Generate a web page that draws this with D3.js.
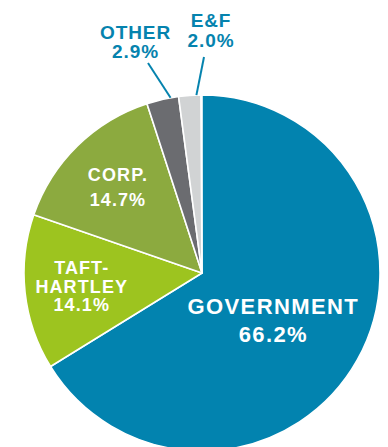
<!DOCTYPE html>
<html lang="en">

<head>
    <meta charset="UTF-8">
    <title>Assets by Client Type</title>
    <style>
        html, body {
            margin: 0;
            padding: 0;
            background: #fff;
        }

        #chart {
            width: 388px;
            height: 447px;
            overflow: hidden;
        }
    </style>
</head>

<body>
    <div id="chart"></div>
    <script src="https://d3js.org/d3.v7.min.js"></script>
    <script>
        const categories = ["GOVERNMENT", "TAFT-HARTLEY", "CORP.", "OTHER", "E&F"];
        const shares = [66.2, 14.1, 14.7, 2.9, 2.0];
        const labelLines = [["GOVERNMENT"], ["TAFT-", "HARTLEY"], ["CORP."], ["OTHER"], ["E&F"]];
        const colors = ["#0283af", "#9dc41f", "#8caa3f", "#6b6c70", "#d1d3d4"];

        function createPieChart() {
            const width = 388;
            const height = 447;
            const cx = 202;
            const cy = 273;
            const radius = 178;
            const textColor = "#0583ae";

            const data = categories.map((c, i) => ({ category: c, value: shares[i], lines: labelLines[i] }));

            // values add up to 99.9, keep the tiny gap instead of stretching
            const total = d3.sum(shares);
            const pie = d3.pie()
                .sort(null)
                .value(d => d.value)
                .startAngle(0)
                .endAngle(2 * Math.PI * total / 100);

            const arc = d3.arc()
                .innerRadius(0)
                .outerRadius(radius);

            const color = d3.scaleOrdinal()
                .domain(categories)
                .range(colors);

            const arcs = pie(data);

            const svg = d3.select("#chart").append("svg")
                .attr("width", width)
                .attr("height", height)
                .attr("viewBox", [0, 0, width, height])
                .style("font-family", "'Liberation Sans', Arial, Helvetica, sans-serif")
                .style("font-weight", "bold");

            const g = svg.append("g")
                .attr("transform", `translate(${cx},${cy})`);

            g.selectAll("path")
                .data(arcs)
                .join("path")
                .attr("d", arc)
                .attr("fill", d => color(d.data.category))
                .attr("stroke", "#fff")
                .attr("stroke-width", 1.6)
                .attr("stroke-linejoin", "round");

            const polar = (angle, r) => [Math.sin(angle) * r, -Math.cos(angle) * r];

            // inside labels: radius along mid angle plus a small nudge
            const inside = {
                "GOVERNMENT": { r: 84, dx: -2, dy: 6, size: 22, lh: 28, ls: 1.4 },
                "TAFT-HARTLEY": { r: 121, dx: 0, dy: 0, size: 18, lh: 18.5, ls: 1.1 },
                "CORP.": { r: 120, dx: 0, dy: 0, size: 18, lh: 25, ls: 1.1 }
            };

            // outside labels: where the leader leaves the slice and where the text sits
            const outside = {
                "OTHER": { t: 0.75, end: [-54, -210], text: [-66.5, -234], size: 19, lh: 19, ls: 0.9 },
                "E&F": { t: 0.8, end: [2, -216], text: [9, -246], size: 19, lh: 20, ls: 0.9 }
            };

            arcs.forEach(d => {
                const key = d.data.category;
                const label = d.data.lines.concat([d3.format(".1f")(d.data.value) + "%"]);

                if (inside[key]) {
                    const o = inside[key];
                    const mid = (d.startAngle + d.endAngle) / 2;
                    const [x, y] = polar(mid, o.r);
                    const top = y + o.dy - (label.length - 1) * o.lh / 2;
                    g.append("text")
                        .attr("text-anchor", "middle")
                        .attr("fill", "#fff")
                        .attr("font-size", o.size)
                        .attr("letter-spacing", o.ls)
                        .selectAll("tspan")
                        .data(label)
                        .join("tspan")
                        .attr("x", x + o.dx)
                        .attr("y", (s, i) => top + i * o.lh)
                        .attr("dy", "0.36em")
                        .text(s => s);
                } else if (outside[key]) {
                    const o = outside[key];
                    const a = d.startAngle + (d.endAngle - d.startAngle) * o.t;
                    const [x0, y0] = polar(a, radius);
                    g.append("line")
                        .attr("x1", x0)
                        .attr("y1", y0)
                        .attr("x2", o.end[0])
                        .attr("y2", o.end[1])
                        .attr("stroke", textColor)
                        .attr("stroke-width", 2);
                    g.append("text")
                        .attr("text-anchor", "middle")
                        .attr("fill", textColor)
                        .attr("font-size", o.size)
                        .attr("letter-spacing", o.ls)
                        .selectAll("tspan")
                        .data(label)
                        .join("tspan")
                        .attr("x", o.text[0])
                        .attr("y", (s, i) => o.text[1] + i * o.lh)
                        .text(s => s);
                }
            });
        }

        document.addEventListener("DOMContentLoaded", createPieChart);
    </script>
</body>

</html>
